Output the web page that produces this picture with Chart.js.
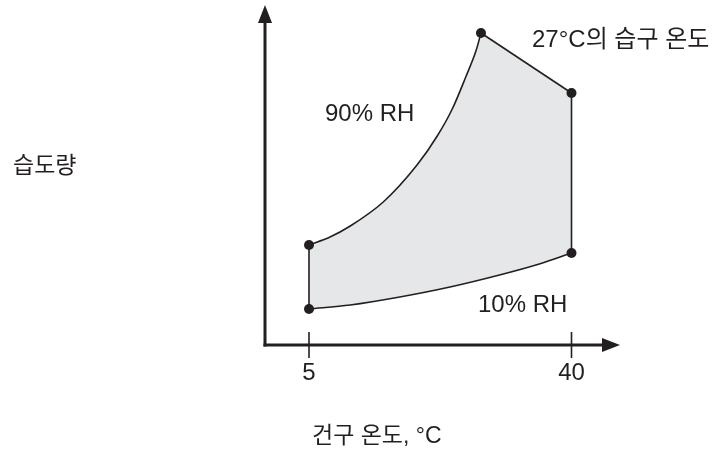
<!DOCTYPE html>
<html>
<head>
<meta charset="utf-8">
<script src="https://cdn.jsdelivr.net/npm/chart.js@4.4.1/dist/chart.umd.min.js"></script>
<style>
  html, body { margin: 0; padding: 0; background: #fff; }
  canvas { display: block; }
</style>
</head>
<body>
<canvas id="grafico" width="720" height="452"></canvas>
<script>
// Curva 10% RH (건구 온도, 습도량)
const lowerX = [5, 10.5, 17.1, 23.8, 30.4, 35.7, 40];
const lowerY = [3.6, 4.0, 4.8, 5.8, 7.0, 8.1, 9.2];
// Curva 90% RH
const upperX = [5, 7.8, 10.5, 14.9, 19.4, 22.1, 24.1, 25.9, 27.3, 27.93];
const upperY = [10.0, 10.8, 11.9, 14.3, 18.0, 20.9, 23.6, 26.8, 29.5, 31.2];
// Línea de bulbo húmedo 27°C
const wetX = [27.93, 40];
const wetY = [31.2, 25.2];
// Marcas del eje x
const xTicks = [5, 40];

const INK = '#231f20';
const FILL = '#e6e7e8';
const toPts = (xs, ys) => xs.map((x, i) => ({x: x, y: ys[i]}));

const lower = toPts(lowerX, lowerY);
const upper = toPts(upperX, upperY);
const wet = toPts(wetX, wetY);
const leftEdge = [lower[0], upper[0]];
const rightEdge = [lower[lower.length - 1], wet[wet.length - 1]];
const corners = [lower[0], upper[0], upper[upper.length - 1], wet[wet.length - 1], lower[lower.length - 1]];

const lineBase = {
  borderColor: INK,
  borderWidth: 1.6,
  pointRadius: 0,
  fill: false,
  clip: false
};

// Ejes con flechas, marcas y textos
const ejes = {
  id: 'ejes',
  afterDraw(chart) {
    const ctx = chart.ctx;
    const a = chart.chartArea;
    const xs = chart.scales.x;
    ctx.save();
    ctx.strokeStyle = INK;
    ctx.fillStyle = INK;

    // eje y
    ctx.lineWidth = 3;
    ctx.beginPath();
    ctx.moveTo(a.left, a.bottom + 1.5);
    ctx.lineTo(a.left, a.top + 16);
    ctx.stroke();
    ctx.beginPath();
    ctx.moveTo(a.left, a.top);
    ctx.lineTo(a.left - 7, a.top + 18);
    ctx.lineTo(a.left + 7, a.top + 18);
    ctx.closePath();
    ctx.fill();

    // eje x
    ctx.beginPath();
    ctx.moveTo(a.left - 1.5, a.bottom);
    ctx.lineTo(a.right - 16, a.bottom);
    ctx.stroke();
    ctx.beginPath();
    ctx.moveTo(a.right, a.bottom);
    ctx.lineTo(a.right - 18, a.bottom - 7);
    ctx.lineTo(a.right - 18, a.bottom + 7);
    ctx.closePath();
    ctx.fill();

    // marcas
    ctx.lineWidth = 1.6;
    ctx.font = '24px "Liberation Sans", Arial, sans-serif';
    ctx.textAlign = 'center';
    ctx.textBaseline = 'alphabetic';
    xTicks.forEach(t => {
      const px = xs.getPixelForValue(t);
      ctx.beginPath();
      ctx.moveTo(px, a.bottom - 13);
      ctx.lineTo(px, a.bottom + 13);
      ctx.stroke();
      ctx.fillText(String(t), px, a.bottom + 35);
    });

    // etiquetas
    ctx.textAlign = 'left';
    ctx.font = '24px "Liberation Sans", "Noto Sans CJK KR", sans-serif';
    ctx.fillText('27°C의 습구 온도', 532, 47);
    ctx.fillText('90% RH', 325, 121);
    ctx.fillText('10% RH', 478, 312);

    ctx.font = '23px "Liberation Sans", "Noto Sans CJK KR", sans-serif';
    ctx.fillText('습도량', 13, 173);
    ctx.fillText('건구 온도, °C', 312, 443);
    ctx.restore();
  }
};

// 7.5 px por grado, 5 -> 309 px
const xMin = 5 - 44 / 7.5;
const xMax = xMin + 355 / 7.5;

new Chart(document.getElementById('grafico'), {
  type: 'line',
  data: {
    datasets: [
      Object.assign({}, lineBase, {
        label: '10% RH',
        data: lower,
        cubicInterpolationMode: 'monotone'
      }),
      Object.assign({}, lineBase, {
        label: '90% RH',
        data: upper,
        cubicInterpolationMode: 'monotone',
        fill: 0,
        backgroundColor: FILL
      }),
      Object.assign({}, lineBase, {
        label: '27°C의 습구 온도',
        data: wet,
        tension: 0,
        fill: 0,
        backgroundColor: FILL
      }),
      Object.assign({}, lineBase, { label: 'left', data: leftEdge, tension: 0 }),
      Object.assign({}, lineBase, { label: 'right', data: rightEdge, tension: 0 }),
      {
        label: 'corners',
        data: corners,
        showLine: false,
        pointRadius: 5,
        pointBackgroundColor: INK,
        pointBorderWidth: 0,
        clip: false,
        order: -1
      }
    ]
  },
  options: {
    responsive: false,
    animation: false,
    devicePixelRatio: 1,
    layout: { padding: { left: 265, right: 100, top: 5, bottom: 107 } },
    scales: {
      x: { type: 'linear', min: xMin, max: xMax, display: false },
      y: { type: 'linear', min: 0, max: 34, display: false }
    },
    plugins: {
      legend: { display: false },
      tooltip: { enabled: false },
      filler: { drawTime: 'beforeDatasetsDraw' }
    }
  },
  plugins: [ejes]
});
</script>
</body>
</html>
